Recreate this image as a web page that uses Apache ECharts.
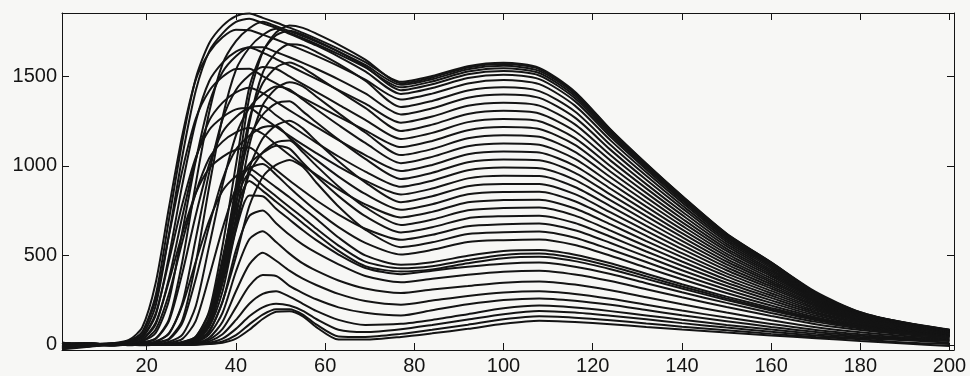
<!DOCTYPE html>
<html>
<head>
<meta charset="utf-8">
<script src="https://cdn.jsdelivr.net/npm/echarts@6.0.0/dist/echarts.min.js"></script>
<style>
  html, body { margin: 0; padding: 0; background: #f7f7f5; }
  #chart { width: 970px; height: 376px; }
</style>
</head>
<body>
<div id="chart"></div>
<script>
// sample positions along the x axis (channel index)
const X = [1, 7, 12, 16, 19, 22, 25, 28, 31, 34, 37, 40, 43, 46, 49, 52, 55, 58, 63, 69, 77, 84, 92, 100, 108, 116, 124, 132, 140, 150, 160, 170, 180, 190, 200]

const xTicks = [20, 40, 60, 80, 100, 120, 140, 160, 180, 200]
const yTicks = [0, 500, 1000, 1500]

// upper family: curves with the big first peak (read top to bottom at x=100)
const upperCurves = [
  [12, -4, 6, 23, 74, 278, 703, 1138, 1489, 1684, 1781, 1836, 1850, 1826, 1800, 1771, 1742, 1710, 1653, 1579, 1469, 1501, 1556, 1575, 1547, 1414, 1203, 1013, 833, 622, 461, 291, 178, 120, 79],
  [8, 2, -3, 4, 2, 5, 3, 14, 36, 143, 464, 893, 1382, 1635, 1744, 1783, 1770, 1738, 1677, 1593, 1461, 1493, 1549, 1568, 1540, 1408, 1200, 1010, 831, 621, 461, 296, 183, 124, 84],
  [5, 9, -2, 3, 14, 36, 144, 469, 902, 1299, 1569, 1696, 1768, 1804, 1779, 1752, 1724, 1693, 1637, 1563, 1452, 1483, 1539, 1558, 1530, 1401, 1192, 1005, 827, 618, 458, 290, 172, 115, 73],
  [3, 6, 2, 18, 55, 219, 619, 1056, 1420, 1639, 1739, 1803, 1821, 1796, 1770, 1742, 1712, 1680, 1623, 1549, 1438, 1471, 1526, 1545, 1518, 1390, 1184, 998, 822, 615, 456, 289, 178, 126, 86],
  [10, 0, 4, 2, 5, 1, 4, 17, 47, 189, 554, 1005, 1438, 1638, 1729, 1754, 1732, 1699, 1638, 1554, 1422, 1455, 1511, 1529, 1504, 1377, 1174, 990, 816, 611, 454, 289, 178, 113, 70],
  [6, 3, 8, 1, 4, 14, 35, 141, 459, 883, 1271, 1536, 1659, 1730, 1765, 1737, 1705, 1672, 1610, 1527, 1401, 1434, 1490, 1509, 1484, 1361, 1162, 980, 808, 606, 450, 287, 183, 120, 82],
  [14, -6, 9, 28, 99, 346, 770, 1173, 1481, 1633, 1718, 1760, 1757, 1732, 1705, 1676, 1646, 1614, 1557, 1481, 1370, 1403, 1460, 1479, 1456, 1336, 1142, 964, 796, 598, 445, 280, 177, 120, 75],
  [2, 7, -1, 5, 0, 3, 6, 11, 29, 109, 370, 774, 1236, 1519, 1632, 1679, 1671, 1636, 1569, 1475, 1328, 1362, 1420, 1438, 1417, 1303, 1116, 944, 780, 588, 438, 282, 177, 124, 83],
  [9, 1, 5, 4, 21, 67, 251, 637, 1030, 1348, 1524, 1612, 1662, 1662, 1635, 1606, 1575, 1542, 1483, 1404, 1287, 1321, 1380, 1398, 1379, 1269, 1089, 922, 764, 577, 430, 278, 176, 119, 72],
  [4, 10, 0, 15, 42, 166, 499, 898, 1247, 1472, 1576, 1638, 1661, 1632, 1596, 1559, 1522, 1485, 1423, 1347, 1241, 1275, 1335, 1352, 1336, 1231, 1059, 898, 745, 564, 421, 274, 171, 118, 77],
  [7, 4, 6, -2, 3, 6, 2, 14, 38, 151, 460, 854, 1262, 1461, 1549, 1577, 1547, 1499, 1419, 1323, 1195, 1230, 1289, 1307, 1292, 1193, 1029, 874, 726, 552, 412, 270, 173, 117, 81],
  [11, -3, 7, 3, 2, 20, 63, 235, 594, 962, 1259, 1423, 1505, 1552, 1542, 1499, 1456, 1413, 1342, 1257, 1150, 1184, 1244, 1261, 1249, 1155, 998, 849, 706, 538, 403, 265, 171, 116, 74],
  [5, 8, 3, 21, 68, 251, 614, 976, 1264, 1418, 1497, 1541, 1542, 1500, 1460, 1419, 1379, 1340, 1274, 1198, 1105, 1139, 1199, 1216, 1205, 1117, 967, 824, 686, 525, 393, 260, 169, 115, 77],
  [3, 6, 1, 4, 8, 2, 5, 11, 28, 109, 358, 711, 1114, 1338, 1431, 1467, 1444, 1387, 1294, 1186, 1060, 1094, 1154, 1171, 1162, 1078, 936, 798, 666, 510, 383, 255, 167, 113, 76],
  [8, 2, 4, 6, 1, 3, 18, 58, 218, 553, 894, 1170, 1323, 1399, 1443, 1426, 1370, 1316, 1228, 1128, 1015, 1050, 1109, 1125, 1118, 1039, 904, 772, 645, 496, 372, 249, 164, 111, 75],
  [6, 0, 7, 3, 29, 115, 374, 720, 1036, 1252, 1353, 1410, 1436, 1406, 1357, 1310, 1263, 1217, 1143, 1060, 971, 1005, 1065, 1080, 1074, 1000, 872, 746, 624, 481, 361, 243, 161, 109, 74],
  [9, 5, -1, 3, 6, 2, 4, 15, 46, 180, 484, 842, 1154, 1285, 1348, 1360, 1304, 1243, 1146, 1039, 927, 961, 1020, 1035, 1031, 961, 839, 719, 603, 466, 350, 237, 158, 107, 73],
  [3, 8, 2, 5, 12, 34, 134, 403, 726, 1008, 1189, 1273, 1324, 1335, 1282, 1230, 1179, 1130, 1052, 968, 883, 917, 975, 990, 987, 922, 807, 692, 581, 450, 339, 230, 154, 105, 71],
  [10, 3, 6, 15, 45, 175, 472, 788, 1048, 1200, 1271, 1315, 1323, 1270, 1218, 1167, 1118, 1071, 996, 917, 840, 873, 930, 944, 943, 882, 774, 665, 559, 434, 327, 223, 150, 102, 70],
  [4, 9, 3, 1, 5, 7, 2, 11, 28, 110, 345, 652, 986, 1152, 1226, 1251, 1209, 1138, 1026, 908, 797, 830, 886, 899, 899, 842, 740, 637, 536, 417, 315, 216, 146, 99, 68],
  [7, 1, 5, 2, 4, 11, 31, 123, 370, 666, 925, 1091, 1168, 1215, 1222, 1156, 1093, 1033, 940, 843, 755, 786, 841, 854, 855, 802, 707, 609, 513, 400, 302, 208, 142, 96, 66],
  [2, 7, 4, 1, 22, 86, 287, 578, 849, 1042, 1135, 1187, 1211, 1179, 1119, 1060, 1004, 951, 869, 785, 712, 743, 797, 809, 811, 762, 673, 580, 490, 383, 289, 200, 137, 93, 64],
  [6, 2, 8, 0, 3, 5, 1, 11, 34, 137, 388, 686, 957, 1075, 1131, 1142, 1076, 1001, 885, 769, 670, 700, 752, 764, 767, 722, 638, 551, 466, 365, 276, 192, 132, 90, 62],
  [9, 4, 0, 6, 2, 4, 11, 34, 135, 382, 651, 876, 1011, 1072, 1112, 1096, 1017, 943, 831, 719, 628, 657, 708, 719, 722, 681, 604, 522, 442, 347, 263, 183, 126, 86, 59],
  [5, 10, 2, 11, 31, 124, 357, 622, 847, 986, 1050, 1090, 1102, 1041, 978, 918, 862, 808, 728, 649, 587, 615, 663, 674, 678, 640, 569, 493, 417, 329, 249, 174, 121, 82, 57],
  [8, 3, 5, 2, 7, 0, 4, 7, 19, 73, 244, 492, 776, 938, 1005, 1032, 995, 907, 773, 644, 546, 573, 619, 629, 634, 599, 533, 463, 392, 310, 235, 165, 115, 78, 54],
  [4, 6, 1, 3, 7, 18, 66, 223, 466, 694, 861, 942, 988, 1010, 950, 879, 812, 750, 658, 570, 505, 531, 575, 585, 589, 558, 498, 432, 367, 290, 220, 155, 109, 74, 51]
]

// lower family: the dense band near 500 and the curves under it
const lowerCurves = [
  [-8, 5, 3, 1, 4, 2, 6, 10, 40, 150, 420, 840, 985, 935, 880, 825, 765, 705, 600, 500, 448, 462, 498, 524, 530, 504, 456, 398, 339, 270, 207, 148, 106, 74, 53],
  [-15, 8, -2, 5, 0, 3, 1, 8, 35, 135, 390, 800, 955, 890, 830, 770, 712, 650, 555, 465, 428, 440, 474, 502, 510, 485, 439, 383, 326, 260, 199, 143, 102, 71, 51],
  [-5, -8, 4, 2, 6, 1, 3, 6, 30, 120, 360, 750, 915, 860, 800, 740, 680, 620, 525, 440, 410, 422, 456, 484, 492, 468, 423, 369, 315, 251, 192, 138, 98, 69, 49],
  [-12, 3, 6, 0, 2, 5, 2, 5, 25, 100, 300, 640, 835, 830, 760, 700, 640, 585, 505, 430, 395, 415, 437, 454, 460, 437, 396, 345, 294, 235, 179, 129, 92, 64, 46],
  [-20, -6, 2, 4, 1, 3, 0, 4, 20, 80, 240, 530, 720, 750, 680, 615, 560, 515, 450, 385, 350, 370, 392, 409, 415, 394, 357, 311, 266, 212, 162, 116, 83, 58, 42],
  [-3, 4, 8, 3, 5, 0, 2, 3, 15, 60, 180, 410, 590, 635, 575, 510, 455, 415, 360, 315, 290, 310, 329, 348, 355, 337, 305, 266, 227, 181, 138, 99, 71, 50, 36],
  [-18, -2, 0, 6, 2, 4, 1, 2, 10, 40, 130, 300, 450, 515, 470, 415, 370, 335, 285, 245, 225, 248, 274, 293, 300, 285, 258, 225, 192, 153, 117, 84, 60, 42, 30],
  [-10, 6, 3, 1, 3, 2, 5, 2, 8, 30, 90, 210, 330, 390, 385, 330, 290, 255, 210, 180, 165, 194, 227, 251, 260, 247, 224, 195, 166, 133, 101, 73, 52, 36, 26],
  [-22, -4, 5, 2, 0, 3, 1, 4, 5, 20, 60, 140, 230, 285, 300, 270, 230, 190, 140, 112, 118, 140, 172, 205, 220, 209, 189, 165, 141, 112, 86, 62, 44, 31, 22],
  [-6, 2, -3, 4, 3, 1, 2, 0, 3, 12, 35, 90, 160, 210, 230, 220, 190, 145, 85, 72, 88, 112, 142, 172, 190, 181, 163, 143, 122, 97, 74, 53, 38, 27, 12],
  [-14, -8, 3, 0, 2, 4, 0, 3, 2, 8, 20, 55, 115, 170, 200, 200, 170, 115, 48, 45, 62, 85, 113, 143, 160, 152, 138, 120, 102, 82, 62, 45, 32, 14, 6],
  [-24, -10, 1, 3, -2, 1, 3, 0, 2, 5, 12, 35, 85, 145, 185, 188, 160, 100, 30, 30, 45, 65, 90, 118, 135, 128, 116, 101, 86, 69, 53, 38, 22, 8, -5]
]

const allCurves = upperCurves.concat(lowerCurves)

const chart = echarts.init(document.getElementById('chart'))

const ink = '#141414'
const labelFont = {
  color: ink,
  fontSize: 20,
  fontFamily: '"Liberation Sans", Arial, sans-serif',
  formatter: (v) => String(v)
}

const xBase = {
  type: 'value',
  min: 1,
  max: 201,
  axisLine: { show: true, onZero: false, lineStyle: { color: ink, width: 1 } },
  axisTick: { show: true, inside: true, length: 7, customValues: xTicks, lineStyle: { color: ink, width: 1 } },
  splitLine: { show: false }
}
const yBase = {
  type: 'value',
  min: -28,
  max: 1853,
  axisLine: { show: true, onZero: false, lineStyle: { color: ink, width: 1 } },
  axisTick: { show: true, inside: true, length: 7, customValues: yTicks, lineStyle: { color: ink, width: 1 } },
  splitLine: { show: false }
}

const option = {
  backgroundColor: '#f7f7f5',
  animation: false,
  grid: { left: 62, right: 16, top: 13, bottom: 25 },
  xAxis: [
    Object.assign({}, xBase, {
      position: 'bottom',
      axisLabel: Object.assign({ customValues: xTicks, margin: 6 }, labelFont)
    }),
    Object.assign({}, xBase, { position: 'top', axisLabel: { show: false } })
  ],
  yAxis: [
    Object.assign({}, yBase, {
      position: 'left',
      axisLabel: Object.assign({ customValues: yTicks, margin: 5 }, labelFont)
    }),
    Object.assign({}, yBase, { position: 'right', axisLabel: { show: false } })
  ],
  series: allCurves.map((c) => {
    return {
      type: 'line',
      xAxisIndex: 0,
      yAxisIndex: 0,
      data: X.map((x, i) => [x, c[i]]),
      symbol: 'none',
      smooth: 0.25,
      silent: true,
      lineStyle: { color: ink, width: 2 }
    }
  })
}

chart.setOption(option)
</script>
</body>
</html>
